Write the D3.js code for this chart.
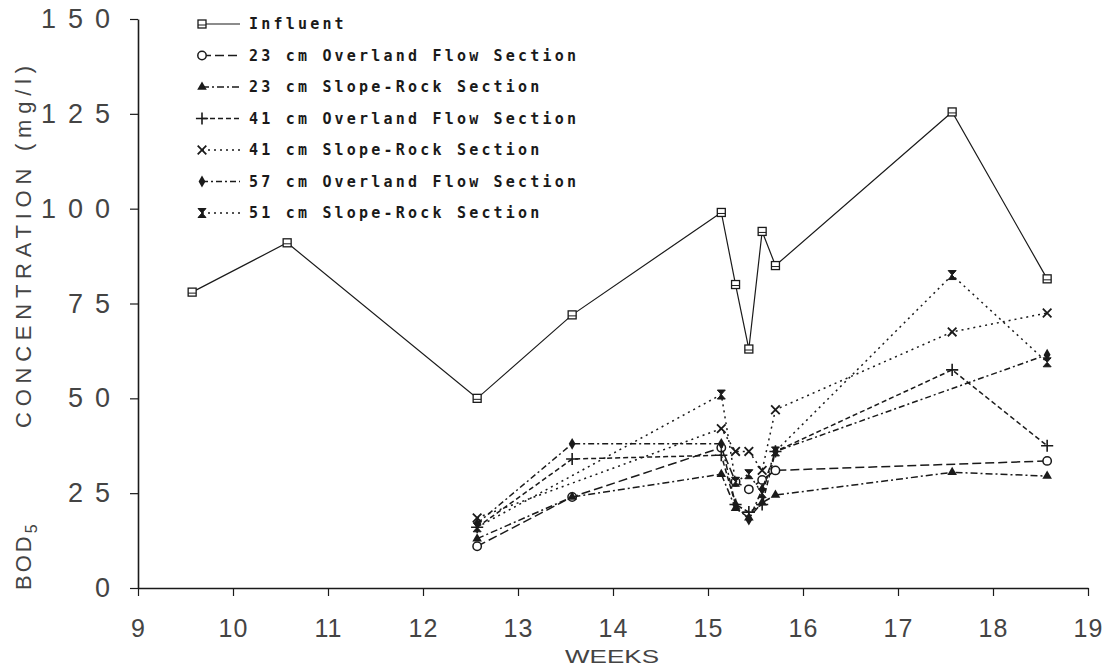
<!DOCTYPE html>
<html>
<head>
<meta charset="utf-8">
<script src="https://cdn.jsdelivr.net/npm/d3@7"></script>
<style>
  body { margin: 0; background: #fff; }
  svg { display: block; }
</style>
</head>
<body>
<svg id="chart" width="1106" height="666"></svg>
<script>
// weeks of sampling (day / 7)
const weeks = [9.57, 10.57, 12.57, 13.57, 15.14, 15.29, 15.43, 15.57, 15.71, 17.57, 18.57];

// BOD5 concentration (mg/l), null = not sampled
const influent = [78, 91, 50, 72, 99, 80, 63, 94, 85, 125.5, 81.5];
const of23 = [null, null, 11, 24, 37, 28, 26, 28.5, 31, null, 33.5];
const sr23 = [null, null, 13, 24, 30, 21, 18.5, 22.5, 24.5, 30.5, 29.5];
const of41 = [null, null, 16, 34, 35, 22, 20, 22, 36, 57.5, 37.5];
const sr41 = [null, null, 18.5, null, 42, 36, 36, 31, 47, 67.5, 72.5];
const of57 = [null, null, 17, 38, 38, 22, 18, 26, 36, null, 61.5];
const sr51 = [null, null, 16, null, 51, 28, 30, 25, 36, 82.5, 59.5];

const xTicks = [9, 10, 11, 12, 13, 14, 15, 16, 17, 18, 19];
const yTicks = [0, 25, 50, 75, 100, 125, 150];

const series = [
  { name: "Influent", values: influent, dash: null, marker: "square" },
  { name: "23 cm Overland Flow Section", values: of23, dash: "9,4", marker: "circle" },
  { name: "23 cm Slope-Rock Section", values: sr23, dash: "7,3,2,3", marker: "triangle" },
  { name: "41 cm Overland Flow Section", values: of41, dash: "5,3", marker: "plus" },
  { name: "41 cm Slope-Rock Section", values: sr41, dash: "2,4", marker: "times" },
  { name: "57 cm Overland Flow Section", values: of57, dash: "6,3,2,3", marker: "diamond" },
  { name: "51 cm Slope-Rock Section", values: sr51, dash: "2,4", marker: "hourglass" }
];

const svg = d3.select("#chart");
const ink = "#1a1a1a";

const x = d3.scaleLinear().domain([9, 19]).range([138, 1088]);
const y = d3.scaleLinear().domain([0, 150]).range([588, 19]);

// axes
const xAxis = svg.append("g")
  .attr("transform", "translate(0," + y(0) + ")")
  .call(d3.axisBottom(x).tickValues(xTicks).tickSize(8).tickSizeOuter(0).tickPadding(23).tickFormat(d3.format("d")));
const yAxis = svg.append("g")
  .attr("transform", "translate(" + x(9) + ",0)")
  .call(d3.axisLeft(y).tickValues(yTicks).tickSize(8).tickSizeOuter(0).tickPadding(20).tickFormat(d3.format("d")));

[xAxis, yAxis].forEach(function (g) {
  g.select(".domain").attr("stroke", ink).attr("stroke-width", 1.6);
  g.selectAll(".tick line").attr("stroke", ink).attr("stroke-width", 1.2);
  g.selectAll(".tick text")
    .attr("fill", "#444")
    .attr("font-family", "'Liberation Sans', Arial, sans-serif")
    .attr("font-size", 27);
});
yAxis.selectAll(".tick text").attr("letter-spacing", 12).attr("dx", 12);
xAxis.selectAll(".tick text").attr("letter-spacing", 1).attr("font-size", 25);

// axis titles
svg.append("text")
  .attr("x", 612).attr("y", 663)
  .attr("text-anchor", "middle")
  .attr("font-family", "'Liberation Sans', Arial, sans-serif")
  .attr("font-size", 19)
  .attr("fill", "#444")
  .attr("textLength", 94)
  .attr("lengthAdjust", "spacingAndGlyphs")
  .text("WEEKS");

const yTitle = svg.append("g").attr("transform", "translate(31,0) rotate(-90)")
  .attr("font-family", "'Liberation Sans', Arial, sans-serif")
  .attr("fill", "#444");
const bod = yTitle.append("text").attr("x", -590).attr("y", 0).attr("font-size", 22).attr("letter-spacing", 3);
bod.append("tspan").text("BOD");
bod.append("tspan").attr("font-size", 16).attr("dy", 6).text("5");
yTitle.append("text")
  .attr("x", -428).attr("y", 0)
  .attr("font-size", 22)
  .attr("textLength", 362)
  .attr("lengthAdjust", "spacing")
  .text("CONCENTRATION  (mg/l)");

// markers
function drawMarker(g, type, cx, cy) {
  const t = "translate(" + cx + "," + cy + ")";
  if (type === "square") {
    g.append("rect").attr("x", cx - 4).attr("y", cy - 4).attr("width", 8).attr("height", 8)
      .attr("fill", "#fff").attr("stroke", ink).attr("stroke-width", 1.3);
    g.append("line").attr("x1", cx - 4).attr("x2", cx + 4).attr("y1", cy + 1).attr("y2", cy + 1)
      .attr("stroke", ink).attr("stroke-width", 1);
  } else if (type === "circle") {
    g.append("circle").attr("cx", cx).attr("cy", cy).attr("r", 4.2)
      .attr("fill", "#fff").attr("stroke", ink).attr("stroke-width", 1.5);
  } else if (type === "triangle") {
    g.append("path").attr("transform", t).attr("d", d3.symbol(d3.symbolTriangle, 40)())
      .attr("fill", ink);
  } else if (type === "plus") {
    g.append("path").attr("transform", t).attr("d", d3.symbol(d3.symbolPlus, 50)())
      .attr("fill", "none").attr("stroke", ink).attr("stroke-width", 1.6);
  } else if (type === "times") {
    g.append("path").attr("transform", t).attr("d", d3.symbol(d3.symbolTimes, 50)())
      .attr("fill", "none").attr("stroke", ink).attr("stroke-width", 1.8);
  } else if (type === "diamond") {
    g.append("path").attr("transform", t).attr("d", d3.symbol(d3.symbolDiamond, 40)())
      .attr("fill", ink);
  } else if (type === "hourglass") {
    g.append("path").attr("transform", t).attr("d", "M-4,-4.5L4,-4.5L0,0L4,4.5L-4,4.5L0,0Z")
      .attr("fill", ink).attr("stroke", ink).attr("stroke-width", 1);
  }
}

const line = d3.line().x(d => x(d.w)).y(d => y(d.v));

series.forEach(function (s) {
  const pts = weeks.map((w, i) => ({ w: w, v: s.values[i] })).filter(d => d.v != null);
  svg.append("path")
    .datum(pts)
    .attr("d", line)
    .attr("fill", "none")
    .attr("stroke", ink)
    .attr("stroke-width", s.dash ? 1.5 : 1.2)
    .attr("stroke-dasharray", s.dash);
  const mg = svg.append("g");
  pts.forEach(d => drawMarker(mg, s.marker, x(d.w), y(d.v)));
});

// legend
const legend = svg.append("g");
series.forEach(function (s, i) {
  const ly = 24 + i * 31.5;
  legend.append("line")
    .attr("x1", 202).attr("x2", 240).attr("y1", ly).attr("y2", ly)
    .attr("stroke", ink).attr("stroke-width", s.dash ? 1.4 : 1.2)
    .attr("stroke-dasharray", s.dash);
  drawMarker(legend, s.marker, 202, ly);
  legend.append("text")
    .attr("x", 249).attr("y", ly + 5)
    .attr("font-family", "'DejaVu Sans Mono', monospace")
    .attr("font-size", 15)
    .attr("font-weight", "bold")
    .attr("letter-spacing", 3.2)
    .attr("fill", ink)
    .text(s.name);
});
</script>
</body>
</html>
